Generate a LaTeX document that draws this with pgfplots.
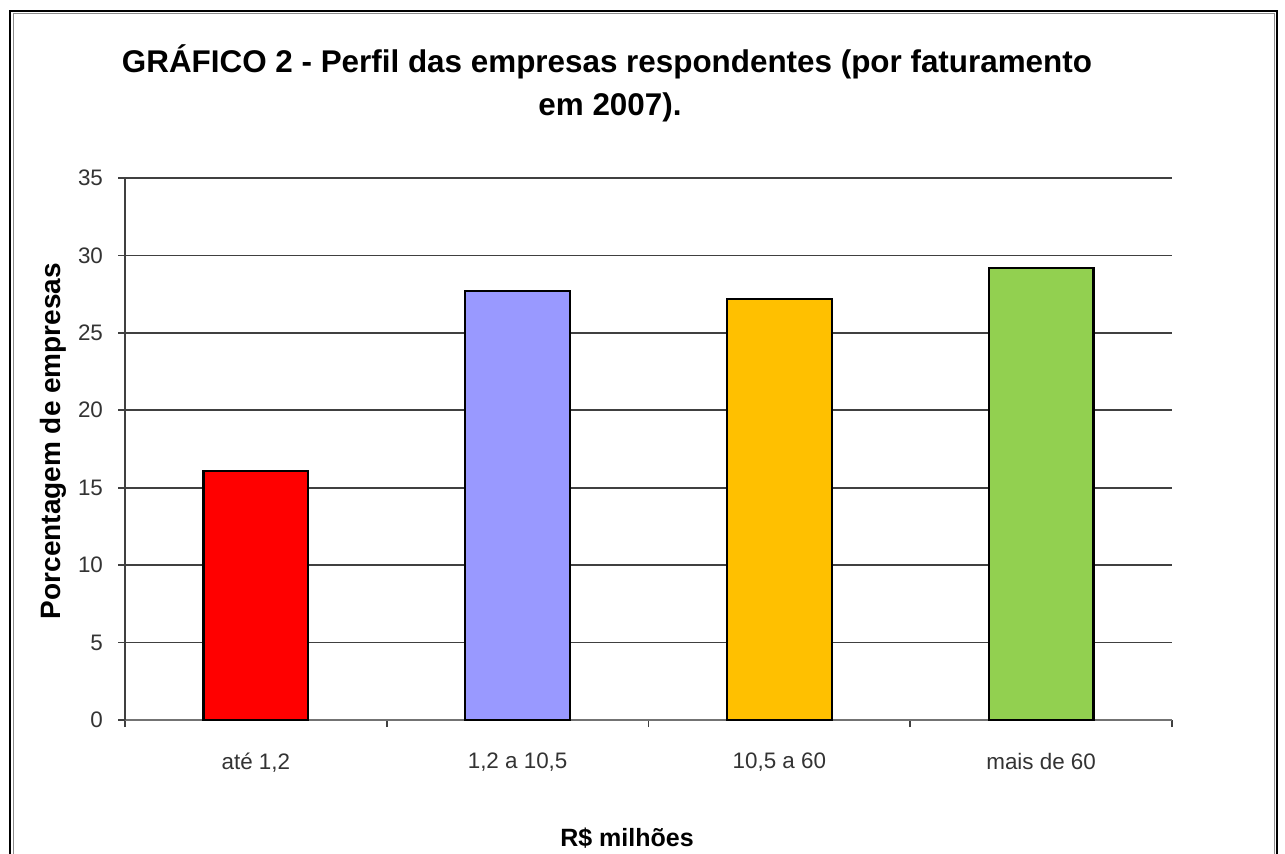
\documentclass[border=0pt]{standalone}
\usepackage{pgfplots}
\pgfplotsset{compat=1.18}
\usepackage{fontspec}
\setmainfont{Liberation Sans}
\definecolor{barred}{HTML}{FF0000}
\definecolor{barblue}{HTML}{9999FF}
\definecolor{baryellow}{HTML}{FFC000}
\definecolor{bargreen}{HTML}{92D050}
\begin{document}
\begin{tikzpicture}[x=0.5pt,y=0.5pt]
\useasboundingbox (0,0) rectangle (1285,853);
\fill[white] (0,0) rectangle (1285,853);
\draw[black, line width=1.2pt] (10,-10) -- (10,842) -- (1277,842) -- (1277,-10);
\draw[black!45, line width=0.5pt] (13,-10) -- (13,839) -- (1274,839) -- (1274,-10);
\begin{axis}[
  at={(62.5pt,66.5pt)}, anchor=south west,
  width=523.5pt, height=271pt, scale only axis,
  xmin=-0.5, xmax=3.5, ymin=0, ymax=35,
  axis x line*=bottom, axis y line*=left,
  x axis line style={black!55, line width=0.8pt},
  y axis line style={black!75, line width=0.8pt},
  ytick={0,5,...,35},
  xtick={-0.5,0.5,1.5,2.5,3.5}, xticklabels={},
  extra x ticks={0,1,2,3},
  extra x tick labels={{até 1,2},{1,2 a 10,5},{10,5 a 60},{mais de 60}},
  extra x tick style={major tick length=0pt, grid=none},
  tick align=outside, major tick length=3.5pt,
  tick style={black!75, line width=0.8pt},
  ymajorgrids, grid style={black!75, line width=0.8pt},
  /pgf/number format/assume math mode=true,
  tick label style={font=\fontsize{11.2}{13}\selectfont, text=black!80},
  yticklabel style={xshift=-4pt},
  xticklabel style={yshift=-13pt},
]
\addplot[ybar, bar shift=0pt, bar width=0.4, fill=barred, draw=black, line width=1.1pt] coordinates {(0,16.1)};
\addplot[ybar, bar shift=0pt, bar width=0.4, fill=barblue, draw=black, line width=1.1pt] coordinates {(1,27.7)};
\addplot[ybar, bar shift=0pt, bar width=0.4, fill=baryellow, draw=black, line width=1.1pt] coordinates {(2,27.2)};
\addplot[ybar, bar shift=0pt, bar width=0.4, fill=bargreen, draw=black, line width=1.1pt] coordinates {(3,29.2)};
\end{axis}
\node[font=\fontsize{15.7}{18}\selectfont\bfseries, anchor=base] at (607,780) {GRÁFICO 2 - Perfil das empresas respondentes (por faturamento};
\node[font=\fontsize{15.7}{18}\selectfont\bfseries, anchor=base] at (610,737) {em 2007).};
\node[font=\fontsize{14}{16}\selectfont\bfseries, rotate=90, anchor=base] at (60,412) {Porcentagem de empresas};
\node[font=\fontsize{12.5}{15}\selectfont\bfseries, anchor=base] at (627,7) {R\$ milhões};
\end{tikzpicture}
\end{document}
